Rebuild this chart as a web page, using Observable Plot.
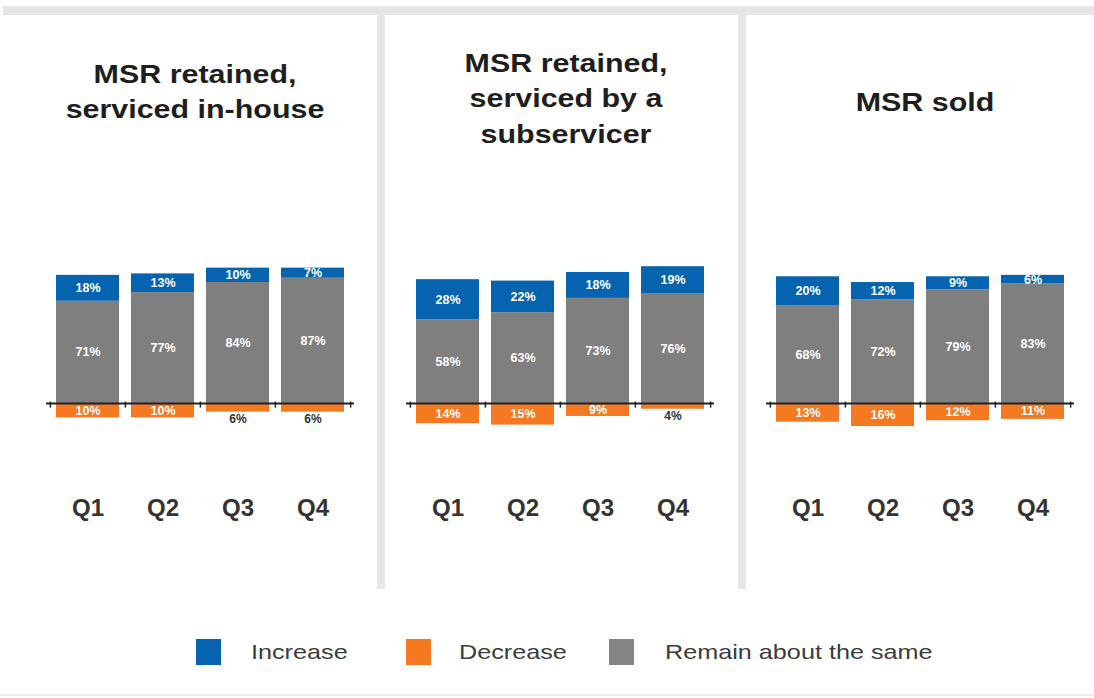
<!DOCTYPE html>
<html>
<head>
<meta charset="utf-8">
<script src="https://cdn.jsdelivr.net/npm/d3@7"></script>
<script src="https://cdn.jsdelivr.net/npm/@observablehq/plot@0.6"></script>
<style>
  html, body { margin: 0; padding: 0; background: #fff; }
  #wrap { position: relative; width: 1094px; height: 698px; overflow: hidden; background: #fff; font-family: "Liberation Sans", Arial, sans-serif; }
  #wrap svg { position: absolute; left: 0; top: 0; }
  .bar-top { position: absolute; left: 3px; top: 6px; width: 1091px; height: 9px; background: #e6e6e6; }
  .sep { position: absolute; top: 15px; width: 8px; height: 574px; background: #e6e6e6; }
  .bottom-line { position: absolute; left: 0; top: 694px; width: 1094px; height: 2px; background: #ececec; }
  .title { position: absolute; width: 420px; text-align: center; font-weight: bold; font-size: 26px; line-height: 35.5px; color: #1e1e1e; transform: scaleX(1.17); transform-origin: center; white-space: nowrap; }
  .sw { position: absolute; top: 639px; width: 25px; height: 26px; }
  .lt { position: absolute; top: 637px; font-size: 21px; line-height: 30px; color: #3c3c3c; transform: scaleX(1.2); transform-origin: left center; white-space: nowrap; }
</style>
</head>
<body>
<div id="wrap"></div>
<script>
// ---- data ----
const panels = ["MSR retained, serviced in-house", "MSR retained, serviced by a subservicer", "MSR sold"];
const panelTitles = [["MSR retained,", "serviced in-house"], ["MSR retained,", "serviced by a", "subservicer"], ["MSR sold"]];
const quarters = ["Q1", "Q2", "Q3", "Q4"];
const seriesNames = ["Increase", "Decrease", "Remain about the same"];
const seriesColors = ["#0563b0", "#f47920", "#7f7f7f"];
const increase = [[18, 13, 10, 7], [28, 22, 18, 19], [20, 12, 9, 6]];
const decrease = [[10, 10, 6, 6], [14, 15, 9, 4], [13, 16, 12, 11]];
const remain = [[71, 77, 84, 87], [58, 63, 73, 76], [68, 72, 79, 83]];

// ---- table built from arrays ----
const rows = [];
panels.forEach((p, i) => quarters.forEach((q, j) => {
  rows.push({panel: p, quarter: q, series: "Remain about the same", value: remain[i][j]});
  rows.push({panel: p, quarter: q, series: "Increase", value: increase[i][j]});
  rows.push({panel: p, quarter: q, series: "Decrease", value: -decrease[i][j]});
}));
const stackOrder = ["Remain about the same", "Increase", "Decrease"];
const isSmallDecrease = d => d.series === "Decrease" && -d.value < 8;
const leftTicks = panels.flatMap(p => quarters.map(q => ({panel: p, quarter: q})));
const rightTicks = panels.map(p => ({panel: p, quarter: quarters[quarters.length - 1]}));
const FONT = "Liberation Sans, Arial, sans-serif";

const chart = Plot.plot({
  width: 1094,
  height: 560,
  marginTop: 259,
  marginBottom: 128.2,
  marginLeft: 45,
  marginRight: 18,
  style: {background: "transparent", overflow: "visible", fontFamily: FONT},
  fx: {domain: panels, paddingInner: 0.144, paddingOuter: 0, axis: null, label: null},
  x: {domain: quarters, paddingInner: 0.157, paddingOuter: 0.13, label: null},
  y: {domain: [-20, 100], axis: null},
  color: {domain: seriesNames, range: seriesColors},
  marks: [
    Plot.barY(rows, Plot.stackY({fx: "panel", x: "quarter", y: "value", z: "series", order: stackOrder, fill: "series"})),
    Plot.ruleY([0], {stroke: "#222", strokeWidth: 2}),
    Plot.ruleX(leftTicks, {fx: "panel", x: "quarter", y1: 1, y2: -3.2, dx: -37.6, stroke: "#222", strokeWidth: 1.5}),
    Plot.ruleX(rightTicks, {fx: "panel", x: "quarter", y1: 1, y2: -3.2, dx: 37.6, stroke: "#222", strokeWidth: 1.5}),
    Plot.text(rows, Plot.stackY({
      fx: "panel", x: "quarter", y: "value", z: "series", order: stackOrder,
      text: d => isSmallDecrease(d) ? "" : Math.abs(d.value) + "%",
      fill: "white", fontWeight: "bold", fontSize: 12.5, fontFamily: FONT
    })),
    Plot.text(rows.filter(isSmallDecrease), {
      fx: "panel", x: "quarter", y: "value", text: d => Math.abs(d.value) + "%",
      lineAnchor: "top", dy: 2, fill: "#333", fontWeight: "bold", fontSize: 12, fontFamily: FONT
    }),
    Plot.axisX({anchor: "bottom", tickSize: 0, tickPadding: 67, fontSize: 24, fontWeight: "bold", fill: "#333", fontFamily: FONT, label: null})
  ]
});

const wrap = document.getElementById("wrap");
wrap.appendChild(chart);

// frame decorations
const add = (cls, style, text) => {
  const el = document.createElement("div");
  el.className = cls;
  Object.assign(el.style, style || {});
  if (text !== undefined) el.innerHTML = text;
  wrap.appendChild(el);
  return el;
};
add("bar-top");
add("sep", {left: "377px"});
add("sep", {left: "738px"});
add("bottom-line");

// titles
const titleCenters = [195, 566, 925];
const titleTops = [56.5, 45.5, 84.5];
panelTitles.forEach((lines, i) => {
  add("title", {left: (titleCenters[i] - 210) + "px", top: titleTops[i] + "px"}, lines.join("<br>"));
});

// legend
const swX = [196, 406, 609];
const ltX = [251, 459, 665];
seriesNames.forEach((s, i) => {
  add("sw", {left: swX[i] + "px", background: seriesColors[i] === "#7f7f7f" ? "#858585" : seriesColors[i]});
  add("lt", {left: ltX[i] + "px"}, s);
});
</script>
</body>
</html>
